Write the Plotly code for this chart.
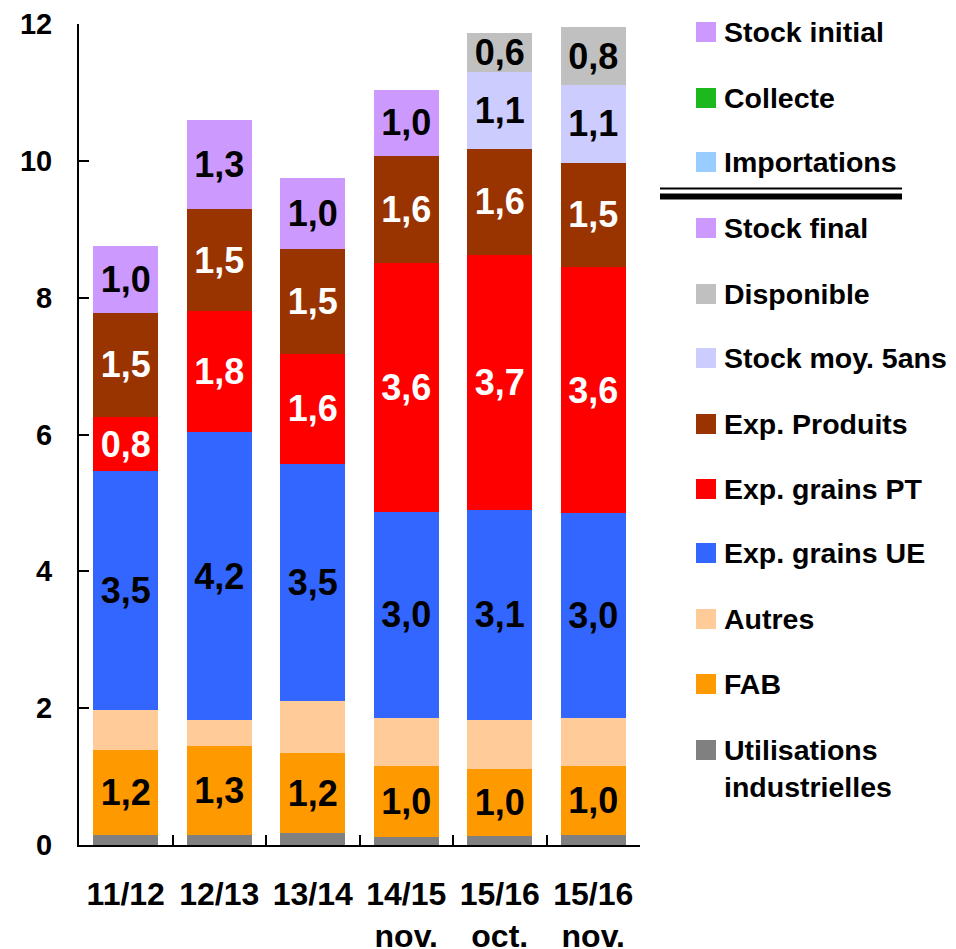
import plotly.graph_objects as go

categories = ["11/12", "12/13", "13/14", "14/15<br>nov.", "15/16<br>oct.", "15/16<br>nov."]

util_ind = [0.15, 0.15, 0.17, 0.12, 0.13, 0.15]
fab = [1.24, 1.30, 1.18, 1.04, 0.98, 1.01]
autres = [0.59, 0.37, 0.76, 0.70, 0.72, 0.70]
exp_ue = [3.48, 4.22, 3.46, 3.01, 3.07, 2.99]
exp_pt = [0.80, 1.76, 1.61, 3.64, 3.72, 3.60]
exp_prod = [1.52, 1.50, 1.53, 1.56, 1.56, 1.52]
stock_final = [0.97, 1.30, 1.04, 0.97, None, None]
stock_moy = [None, None, None, None, 1.12, 1.14]
disponible = [None, None, None, None, 0.57, 0.84]

y_ticks = [0, 2, 4, 6, 8, 10, 12]

FONT = "Arial, Liberation Sans, sans-serif"

series = [
    # name, values, color, label color (None = no label)
    ("Utilisations industrielles", util_ind, "#808080", None),
    ("FAB", fab, "#FF9900", "black"),
    ("Autres", autres, "#FFCC99", None),
    ("Exp. grains UE", exp_ue, "#3366FF", "black"),
    ("Exp. grains PT", exp_pt, "#FF0000", "white"),
    ("Exp. Produits", exp_prod, "#993300", "white"),
    ("Stock final", stock_final, "#CC99FF", "black"),
    ("Stock moy. 5ans", stock_moy, "#CCCCFF", "black"),
    ("Disponible", disponible, "#C0C0C0", "black"),
]

legend_items = [
    ("Stock initial", "#CC99FF"),
    ("Collecte", "#1DB81D"),
    ("Importations", "#99CCFF"),
    ("Stock final", "#CC99FF"),
    ("Disponible", "#C0C0C0"),
    ("Stock moy. 5ans", "#CCCCFF"),
    ("Exp. Produits", "#993300"),
    ("Exp. grains PT", "#FF0000"),
    ("Exp. grains UE", "#3366FF"),
    ("Autres", "#FFCC99"),
    ("FAB", "#FF9900"),
    ("Utilisations<br>industrielles", "#808080"),
]

def fmt(v):
    return "" if v is None else f"{v:.1f}".replace(".", ",")

fig = go.Figure()
for name, vals, color, tcol in series:
    fig.add_trace(go.Bar(
        x=categories, y=vals, name=name,
        marker=dict(color=color, line=dict(width=0)),
        text=[fmt(v) for v in vals] if tcol else None,
        textposition="inside" if tcol else "none",
        insidetextanchor="middle",
        textangle=0,
        constraintext="none",
        textfont=dict(family=FONT, size=36, color=tcol or "black", weight="bold"),
        showlegend=False,
        hoverinfo="skip",
    ))

# page body has an 8px margin
OFF = 8
W, H = 956 - OFF, 949 - OFF
L, R, T, B = 79, 640, 24, 845

def px(x):
    return (x - L) / (R - L)

def py(y):
    return (B - y) / (B - T)

shapes = []
annotations = []
legend_y = [32, 98, 162, 228, 294, 358, 424, 489, 553, 619, 684, 750]
for (name, color), yc in zip(legend_items, legend_y):
    shapes.append(dict(type="rect", xref="paper", yref="paper",
                       x0=px(696), x1=px(716), y0=py(yc + 10), y1=py(yc - 10),
                       fillcolor=color, line=dict(width=0)))
    multi = "<br>" in name
    annotations.append(dict(xref="paper", yref="paper", x=px(722),
                            y=py(yc - 18) if multi else py(yc),
                            xanchor="left", yanchor="top" if multi else "middle",
                            text=name, showarrow=False, align="left",
                            font=dict(family=FONT, size=28.5, color="black", weight="bold")))
# separator double line
shapes.append(dict(type="line", xref="paper", yref="paper", x0=px(660), x1=px(902),
                   y0=py(188.5), y1=py(188.5), line=dict(color="black", width=2)))
shapes.append(dict(type="line", xref="paper", yref="paper", x0=px(660), x1=px(902),
                   y0=py(196.5), y1=py(196.5), line=dict(color="black", width=6)))

fig.update_layout(
    width=W, height=H,
    margin=dict(l=L - OFF, r=W - (R - OFF), t=T - OFF, b=H - (B - OFF), autoexpand=False),
    barmode="stack", bargap=0.305,
    plot_bgcolor="white", paper_bgcolor="white",
    font=dict(family=FONT, size=24, color="black"),
    shapes=shapes, annotations=annotations,
    showlegend=False,
)
fig.update_xaxes(
    showline=True, linecolor="black", linewidth=2,
    ticks="inside", tickson="boundaries", ticklen=10, tickwidth=2, tickcolor="black",
    tickfont=dict(family=FONT, size=32, color="black", weight="bold"),
    ticklabelstandoff=20,
    showgrid=False,
)
fig.update_yaxes(
    range=[0, 12], tickvals=y_ticks, ticktext=[str(v) for v in y_ticks],
    showline=True, linecolor="black", linewidth=2,
    ticks="inside", ticklen=10, tickwidth=2, tickcolor="black",
    tickfont=dict(family=FONT, size=29, color="black", weight="bold"),
    ticklabelstandoff=19,
    showgrid=False, zeroline=False,
)

fig.write_html("out.html")
